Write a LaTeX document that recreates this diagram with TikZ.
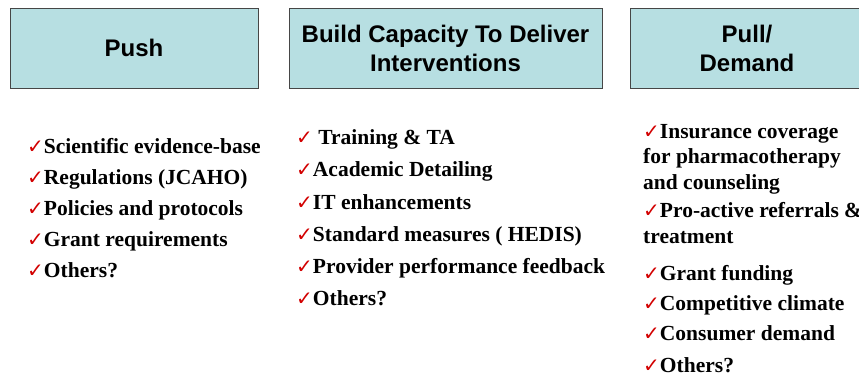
\documentclass[tikz,border=0pt]{standalone}
\usepackage{fontspec}
\setmainfont{Liberation Serif}
\newfontfamily\headfont{Liberation Sans}
\newfontfamily\symbfont{DejaVu Sans}
\usetikzlibrary{positioning}
\definecolor{boxblue}{RGB}{183,223,226}
\definecolor{boxline}{RGB}{70,70,70}
\definecolor{tickred}{RGB}{210,0,0}
\newcommand{\tickmark}{{\color{tickred}\symbfont\fontsize{20}{20}\selectfont ✓}}
\tikzset{
  head/.style={draw=boxline,line width=1pt,fill=boxblue,minimum height=80pt,inner sep=0pt,
    align=center,font=\headfont\bfseries\fontsize{24}{29}\selectfont},
  item/.style={anchor=base west,inner sep=0pt,align=left,
    font=\bfseries\fontsize{21.5}{25.5}\selectfont}
}

\begin{document}
\begin{tikzpicture}[x=1pt,y=-1pt]
  \useasboundingbox (0,0) rectangle (859,378);
  % column heads
  \node[head,minimum width=248pt] (push)  at (134,48)   {Push};
  \node[head,minimum width=313pt] (build) at (445.5,48) {Build Capacity To Deliver\\Interventions};
  \node[head,minimum width=234pt] (pull)  at (747,48)   {Pull/\\Demand};
  % push list
  \node[item] (p1) at (27,153) {\tickmark Scientific evidence-base};
  \node[item] (p2) at (27,184) {\tickmark Regulations (JCAHO)};
  \node[item] (p3) at (27,215) {\tickmark Policies and protocols};
  \node[item] (p4) at (27,246) {\tickmark Grant requirements};
  \node[item] (p5) at (27,277) {\tickmark Others?};
  % capacity list (base = last line)
  \node[item] (b1) at (296,144.5) {\tickmark{} Training \& TA};
  \node[item] (b2) at (296,176.7) {\tickmark Academic Detailing};
  \node[item] (b3) at (296,209)   {\tickmark IT enhancements};
  \node[item] (b4) at (296,241)   {\tickmark Standard measures ( HEDIS)};
  \node[item] (b5) at (296,273.3) {\tickmark Provider performance feedback};
  \node[item] (b6) at (296,305.5) {\tickmark Others?};
  % demand list
  \node[item] (d1) at (643,189) {\tickmark Insurance coverage\\for pharmacotherapy\\and counseling};
  \node[item] (d2) at (643,243) {\tickmark Pro-active referrals \&\\treatment};
  \node[item] (d3) at (643,280) {\tickmark Grant funding};
  \node[item] (d4) at (643,310) {\tickmark Competitive climate};
  \node[item] (d5) at (643,340) {\tickmark Consumer demand};
  \node[item] (d6) at (643,372) {\tickmark Others?};
\end{tikzpicture}
\end{document}
